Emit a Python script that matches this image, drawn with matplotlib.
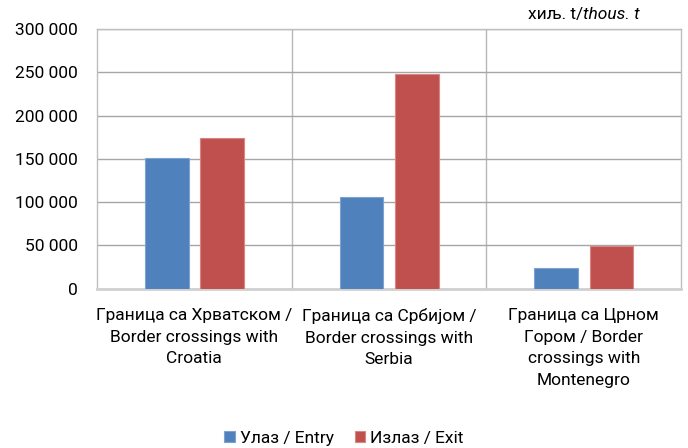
import matplotlib
matplotlib.use("Agg")
import matplotlib.pyplot as plt
import matplotlib.ticker as mticker
import numpy as np

plt.rcParams['font.family'] = ['Roboto', 'Liberation Sans', 'DejaVu Sans']

# data (thousand tonnes)
categories = [
    "Граница са Хрватском /\nBorder crossings with\nCroatia",
    "Граница са Србијом /\nBorder crossings with\nSerbia",
    "Граница са Црном\nГором / Border\ncrossings with\nMontenegro",
]
entry = [150800, 105400, 23400]
exit_ = [174000, 248500, 49200]
series_names = ["Улаз / Entry", "Излаз / Exit"]

blue = "#4F81BD"
red = "#C0504D"

fig = plt.figure(figsize=(6.88, 4.48), dpi=100)
ax = fig.add_axes([0.141, 0.356, 0.849, 0.579])

x = np.arange(len(categories))
w = 0.225
ax.bar(x - 0.142, entry, w, color=blue, edgecolor="#7FA3D0", linewidth=0.8,
       label=series_names[0], zorder=3)
ax.bar(x + 0.142, exit_, w, color=red, edgecolor="#D88583", linewidth=0.8,
       label=series_names[1], zorder=3)

ax.set_xlim(-0.5, 2.5)
ax.set_ylim(0, 300000)
ax.yaxis.set_major_locator(mticker.MultipleLocator(50000))
ax.yaxis.set_major_formatter(
    mticker.FuncFormatter(lambda v, p: f"{int(v):,}".replace(",", " ")))
ax.grid(axis="y", color="#A6A6A6", linewidth=1.0, zorder=0)
for xv in [0.5, 1.5]:
    ax.axvline(xv, color="#B8B8B8", linewidth=1.0, zorder=0)

ax.set_xticks(x)
ax.set_xticklabels(categories, fontsize=12.5, linespacing=1.55)
ax.tick_params(axis="both", length=0, labelsize=12.5)
ax.tick_params(axis="x", pad=14)
ax.tick_params(axis="y", pad=14)

for s in ["left", "right", "top"]:
    ax.spines[s].set_color("#BEBEBE")
    ax.spines[s].set_linewidth(1.0)
ax.spines["bottom"].set_color("#D0D0D0")
ax.spines["bottom"].set_linewidth(2.0)

# unit label: upright part followed by italic part
t_it = fig.text(0.930, 0.957, "thous. t", fontsize=12.5, style="italic",
                ha="right", va="baseline")
renderer = fig.canvas.get_renderer()
bb = t_it.get_window_extent(renderer)
x_left = bb.x0 / fig.bbox.width
fig.text(x_left, 0.957, "хиљ. t/", fontsize=12.5, ha="right", va="baseline")

fig.legend(loc="lower center", bbox_to_anchor=(0.5, -0.03), ncol=2,
           frameon=False, fontsize=12.5, handlelength=0.6, handleheight=0.6,
           handletextpad=0.3, columnspacing=1.2)

fig.savefig("out.png", dpi=100)
